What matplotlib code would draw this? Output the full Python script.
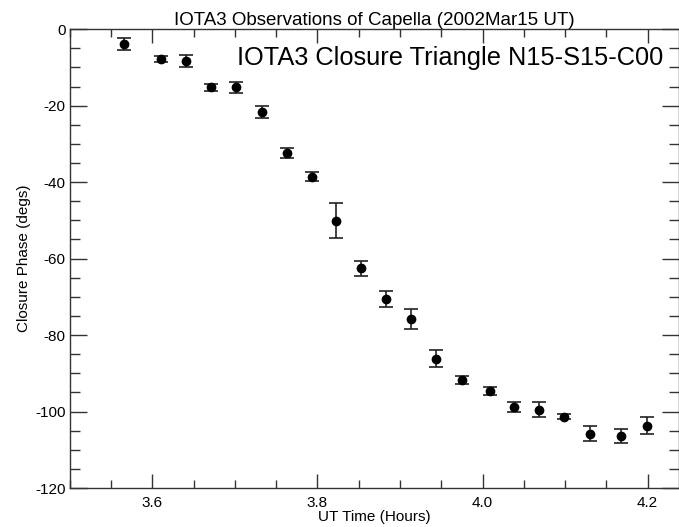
import matplotlib
matplotlib.use("Agg")
import matplotlib.pyplot as plt
from matplotlib.ticker import MultipleLocator

ut_hours = [3.566, 3.611, 3.641, 3.671, 3.701, 3.733, 3.763, 3.793, 3.823, 3.853,
            3.883, 3.913, 3.944, 3.975, 4.009, 4.038, 4.069, 4.099, 4.130, 4.168, 4.199]
closure_phase = [-3.9, -7.8, -8.3, -15.2, -15.2, -21.6, -32.4, -38.6, -50.1, -62.5,
                 -70.6, -75.8, -86.2, -91.7, -94.7, -98.8, -99.5, -101.3, -105.8, -106.4, -103.7]
phase_err = [1.5, 0.9, 1.5, 0.9, 1.5, 1.6, 1.4, 1.2, 4.6, 2.0,
             2.1, 2.7, 2.2, 1.1, 1.0, 1.4, 1.9, 0.6, 2.0, 1.8, 2.3]

plt.rcParams['font.family'] = ['Liberation Sans', 'DejaVu Sans']

fig = plt.figure(figsize=(6.79, 5.27), dpi=100)
ax = fig.add_axes([0.1028, 0.074, 0.8972, 0.8706])

ax.errorbar(ut_hours, closure_phase, yerr=phase_err, fmt='o', color='black',
            ecolor='#222222', elinewidth=1.2, capsize=5, capthick=1.2, markersize=6)

ax.set_xlim(3.5, 4.238)
ax.set_ylim(-120, 0)
ax.xaxis.set_major_locator(MultipleLocator(0.2))
ax.xaxis.set_minor_locator(MultipleLocator(0.05))
ax.yaxis.set_major_locator(MultipleLocator(20))
ax.yaxis.set_minor_locator(MultipleLocator(5))
ax.tick_params(which='both', direction='in', top=True, right=True, colors='#333333',
               labelcolor='black', labelsize=11, width=1)
ax.tick_params(which='major', length=10)
ax.tick_params(which='minor', length=6)
ax.tick_params(axis='y', which='major', length=12)
ax.tick_params(axis='y', which='minor', length=7.5)
ax.tick_params(axis='x', pad=6)
ax.tick_params(axis='y', pad=3)
ax.xaxis.set_major_formatter(matplotlib.ticker.FuncFormatter(lambda v, p: f"{v:.1f}"))
ax.yaxis.set_major_formatter(matplotlib.ticker.FuncFormatter(lambda v, p: f"{int(round(v))}"))
for s in ax.spines.values():
    s.set_color('#333333')
    s.set_linewidth(1)

ax.set_xlabel('UT Time (Hours)', fontsize=11, labelpad=0)
ax.set_ylabel('Closure Phase (degs)', fontsize=11, labelpad=3)
ax.set_title('IOTA3 Observations of Capella (2002Mar15 UT)', fontsize=13.5, pad=3)
ax.text(0.2745, 0.922, 'IOTA3 Closure Triangle N15-S15-C00', transform=ax.transAxes,
        fontsize=18.3, ha='left', va='baseline')

fig.savefig('out.png', dpi=100)
